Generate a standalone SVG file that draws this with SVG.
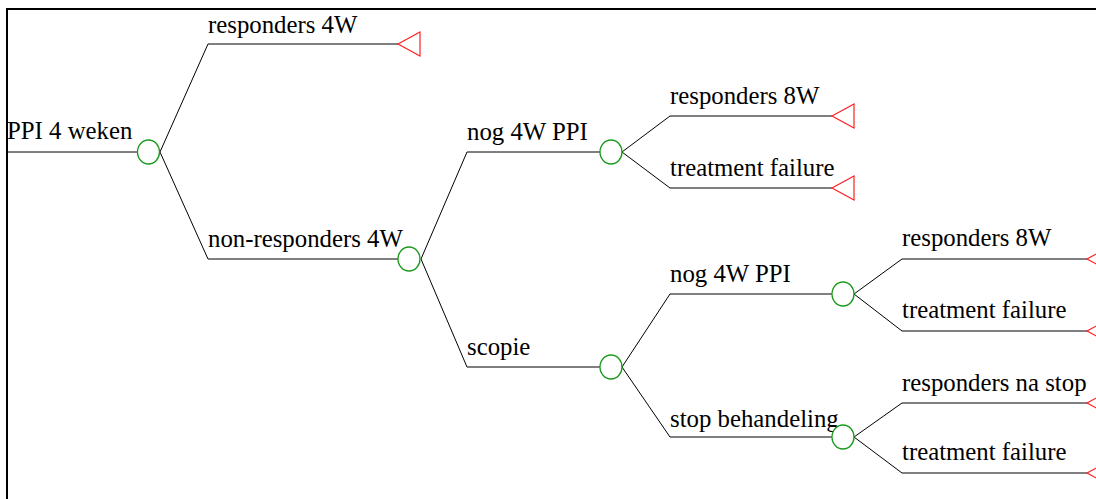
<svg xmlns="http://www.w3.org/2000/svg" width="1096" height="499" viewBox="0 0 1096 499">
<style>
.e{fill:none;stroke:#000;stroke-width:1}
.c{fill:#fff;stroke:#1a9a1a;stroke-width:1.3}
.t{fill:#fff;stroke:#ff2020;stroke-width:1.2}
text{font-family:"Liberation Serif","Times New Roman",serif;font-size:24.8px;fill:#000}
</style>
<rect width="1096" height="499" fill="#fff"/>
<path d="M7,499 V9 H1096" fill="none" stroke="#000" stroke-width="2"/>
<g id="connectors">
<path class="e" d="M7,152 H137"/>
<path class="e" d="M160,152 L208,44 H398"/>
<path class="e" d="M160,152 L208,259 H398"/>
<path class="e" d="M421,259 L467,152 H600"/>
<path class="e" d="M421,259 L467,367 H600"/>
<path class="e" d="M622,152 L670,116 H832"/>
<path class="e" d="M622,152 L670,188 H832"/>
<path class="e" d="M622,367 L670,294 H832"/>
<path class="e" d="M622,367 L670,437 H832"/>
<path class="e" d="M854,294 L902,259 H1087"/>
<path class="e" d="M854,294 L902,331 H1087"/>
<path class="e" d="M854,437 L902,403 H1087"/>
<path class="e" d="M854,437 L902,473 H1087"/>
</g>
<g id="root"><text x="7" y="139">PPI 4 weken</text></g>
<g id="n1"><ellipse class="c" cx="148.5" cy="152" rx="11" ry="12"/></g>
<g id="r4w"><text x="208" y="33">responders 4W</text><polygon class="t" points="398,44 420,32 420,56"/></g>
<g id="nr4w"><text x="208" y="247">non-responders 4W</text><ellipse class="c" cx="409" cy="259" rx="11" ry="12"/></g>
<g id="nog1"><text x="467" y="140">nog 4W PPI</text><ellipse class="c" cx="611" cy="152" rx="11" ry="12"/></g>
<g id="r8w1"><text x="670" y="104">responders 8W</text><polygon class="t" points="832,116 854,104 854,128"/></g>
<g id="tf1"><text x="670" y="176">treatment failure</text><polygon class="t" points="832,188 854,176 854,200"/></g>
<g id="scopie"><text x="467" y="355">scopie</text><ellipse class="c" cx="611" cy="367" rx="11" ry="12"/></g>
<g id="nog2"><text x="670" y="282">nog 4W PPI</text><ellipse class="c" cx="843" cy="294" rx="11" ry="12"/></g>
<g id="stop"><text x="670" y="427">stop behandeling</text><ellipse class="c" cx="843" cy="437" rx="11" ry="12"/></g>
<g id="r8w2"><text x="902" y="246">responders 8W</text><polygon class="t" points="1087,259 1109,247 1109,271"/></g>
<g id="tf2"><text x="902" y="318">treatment failure</text><polygon class="t" points="1087,331 1109,319 1109,343"/></g>
<g id="rns"><text x="902" y="391">responders na stop</text><polygon class="t" points="1087,403 1109,391 1109,415"/></g>
<g id="tf3"><text x="902" y="460">treatment failure</text><polygon class="t" points="1087,473 1109,461 1109,485"/></g>
</svg>
